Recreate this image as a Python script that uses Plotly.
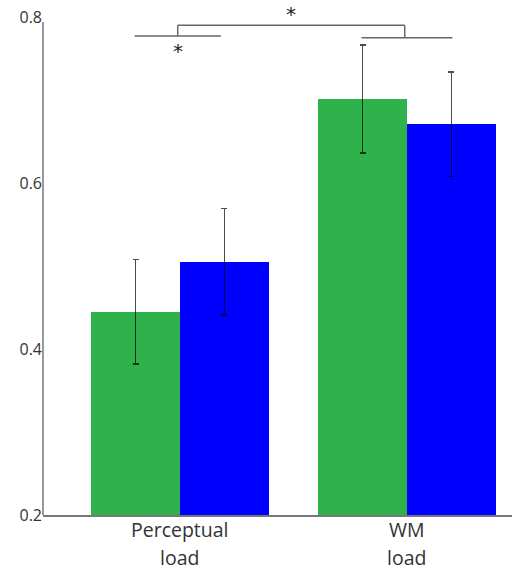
import plotly.graph_objects as go

# Group labels (two lines each) and per-condition means / standard errors
label_top = ["Perceptual", "WM"]
label_bottom = ["load", "load"]
green_values = [0.445, 0.701]
green_errors = [0.063, 0.065]
blue_values = [0.505, 0.671]
blue_errors = [0.064, 0.063]
y_ticks = [0.2, 0.4, 0.6, 0.8]

group_x = [1, 2]
bar_w = 0.392
offset = bar_w / 2

GREEN = "#2fb14c"
BLUE = "#0000ff"
ERR = "rgba(0,0,0,0.7)"

fig = go.Figure()
fig.add_trace(go.Bar(
    x=[g - offset for g in group_x], y=green_values, width=bar_w,
    marker=dict(color=GREEN, line=dict(width=0)),
    error_y=dict(type="data", array=green_errors, color=ERR, thickness=1.5, width=3),
    showlegend=False,
))
fig.add_trace(go.Bar(
    x=[g + offset for g in group_x], y=blue_values, width=bar_w,
    marker=dict(color=BLUE, line=dict(width=0)),
    error_y=dict(type="data", array=blue_errors, color=ERR, thickness=1.5, width=3),
    showlegend=False,
))

# Category labels below the axis, one line per annotation
label_font = dict(size=19.5, color="#333333", family="Open Sans")
for gx, top, bottom in zip(group_x, label_top, label_bottom):
    fig.add_annotation(x=gx, yref="paper", y=-0.029, yanchor="middle", text=top,
                       showarrow=False, font=label_font)
    fig.add_annotation(x=gx, yref="paper", y=-0.0845, yanchor="middle", text=bottom,
                       showarrow=False, font=label_font)

# Significance brackets
line_style = dict(color="#666666", width=1.5)
low_y = 0.777
high_y = 0.790
half = 0.19
left_c, right_c = group_x[0] - 0.01, group_x[1] - 0.01
fig.add_shape(type="line", x0=left_c - half, x1=left_c + half, y0=low_y, y1=low_y, line=line_style)
fig.add_shape(type="line", x0=right_c - half, x1=right_c + half + 0.02, y0=low_y - 0.002, y1=low_y - 0.002, line=line_style)
fig.add_shape(type="line", x0=left_c, x1=left_c, y0=low_y, y1=high_y, line=line_style)
fig.add_shape(type="line", x0=left_c, x1=right_c, y0=high_y, y1=high_y, line=line_style)
fig.add_shape(type="line", x0=right_c, x1=right_c, y0=high_y, y1=low_y - 0.002, line=line_style)
star_font = dict(size=20, color="#222222", family="DejaVu Sans")
fig.add_annotation(x=left_c, y=0.759, text="*", showarrow=False, font=star_font)
fig.add_annotation(x=(left_c + right_c) / 2, yref="paper", y=1.006, yanchor="middle",
                   text="*", showarrow=False, font=star_font)

# Left axis line (stops just below the top tick)
fig.add_shape(type="line", xref="paper", x0=0, x1=0, yref="y", y0=0.2, y1=0.794,
              line=dict(color="#777777", width=1.5))

fig.update_layout(
    width=512, height=571,
    margin=dict(l=43, r=0, t=17, b=56, autoexpand=False),
    plot_bgcolor="white", paper_bgcolor="white",
    bargap=0,
    font=dict(family="Open Sans", color="#333333"),
    xaxis=dict(
        range=[0.3965, 2.4626], tickmode="array", tickvals=group_x, showticklabels=False,
        showgrid=False, zeroline=False, showline=True, linecolor="#777777", linewidth=1.5,
        ticks="", automargin=False,
    ),
    yaxis=dict(
        range=[0.2, 0.8], tickvals=y_ticks, ticktext=[f"{v:.1f}" for v in y_ticks],
        showgrid=False, zeroline=False, showline=False, ticks="", automargin=False,
        tickfont=dict(size=16, color="#333333"),
    ),
)

fig.write_html("out.html")
